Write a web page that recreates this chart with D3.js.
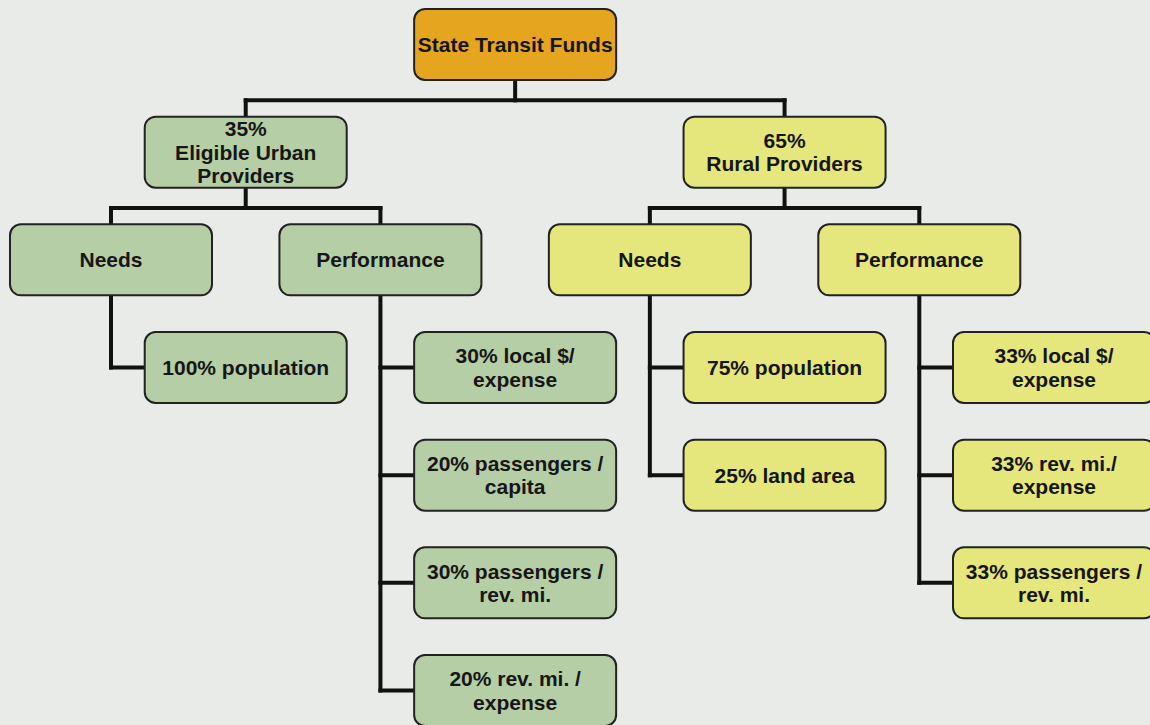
<!DOCTYPE html>
<html>
<head>
<meta charset="utf-8">
<script src="https://cdn.jsdelivr.net/npm/d3@7"></script>
<style>
  html, body { margin: 0; padding: 0; background: #e8ebe7; }
  svg { display: block; }
</style>
</head>
<body>
<svg id="chart" width="1150" height="725"></svg>
<script>
// ---- data ----
const ids = ["root", "urban", "rural", "uNeeds", "uPerf", "rNeeds", "rPerf",
  "u1", "u2", "u3", "u4", "u5", "r1", "r2", "r3", "r4", "r5"];
const parents = [null, "root", "root", "urban", "urban", "rural", "rural",
  "uNeeds", "uPerf", "uPerf", "uPerf", "uPerf", "rNeeds", "rNeeds", "rPerf", "rPerf", "rPerf"];
const labels = [
  "State Transit Funds",
  "35%\nEligible Urban\nProviders",
  "65%\nRural Providers",
  "Needs", "Performance", "Needs", "Performance",
  "100% population",
  "30% local $/\nexpense",
  "20% passengers /\ncapita",
  "30% passengers /\nrev. mi.",
  "20% rev. mi. /\nexpense",
  "75% population",
  "25% land area",
  "33% local $/\nexpense",
  "33% rev. mi./\nexpense",
  "33% passengers /\nrev. mi."
];
const branchNames = ["root", "urban", "rural"];
const branchColors = ["#e6a51f", "#b5cea6", "#e5e67b"];

// ---- build hierarchy ----
const table = ids.map((id, i) => ({ id, parent: parents[i], label: labels[i] }));
const root = d3.stratify().id(d => d.id).parentId(d => d.parent)(table);

// grid layout: category nodes (depth 2) occupy every other column,
// leaves sit one column right and stack downward; ancestors centre over children
let k = 0;
root.each(n => {
  if (n.depth === 2) { n.col = 2 * k; n.row = 2; k++; }
});
root.leaves().forEach(n => {
  n.col = n.parent.col + 1;
  n.row = 3 + n.parent.children.indexOf(n);
});
root.eachAfter(n => {
  if (n.depth < 2) {
    n.col = d3.mean(n.children, c => c.col);
    n.row = n.depth;
  }
});

const color = d3.scaleOrdinal().domain(branchNames).range(branchColors);
const branchOf = n => n.depth === 0 ? "root" : n.ancestors().find(a => a.depth === 1).id;

const x = d3.scaleLinear().domain([0, 7]).range([10, 953]);
const y = d3.scaleLinear().domain([0, 6]).range([9, 655]);
const W = 202, H = 71;
const cx = n => x(n.col) + W / 2;
const cy = n => y(n.row) + H / 2;

const svg = d3.select("#chart");
const links = svg.append("g")
  .attr("fill", "none")
  .attr("stroke", "#111")
  .attr("stroke-width", 4)
  .attr("stroke-linecap", "square");

root.each(n => {
  if (!n.children) return;
  if (n.depth < 2) {
    const bottom = y(n.row) + H;
    const top = y(n.children[0].row);
    const mid = (bottom + top) / 2 + 2;
    const xs = n.children.map(cx);
    links.append("path").attr("d", `M${cx(n)},${bottom}V${mid}`);
    links.append("path").attr("d", `M${d3.min(xs)},${mid}H${d3.max(xs)}`);
    n.children.forEach(c => links.append("path").attr("d", `M${cx(c)},${mid}V${top}`));
  } else {
    const last = n.children[n.children.length - 1];
    links.append("path").attr("d", `M${cx(n)},${y(n.row) + H}V${cy(last)}`);
    n.children.forEach(c => links.append("path").attr("d", `M${cx(n)},${cy(c)}H${x(c.col)}`));
  }
});

const nodes = svg.append("g").selectAll("g")
  .data(root.descendants())
  .join("g")
  .attr("transform", d => `translate(${x(d.col)},${y(d.row)})`);

nodes.append("rect")
  .attr("width", W).attr("height", H)
  .attr("rx", 11).attr("ry", 11)
  .attr("fill", d => color(branchOf(d)))
  .attr("stroke", "#222")
  .attr("stroke-width", 2);

const lineH = 23.5;
nodes.append("text")
  .attr("text-anchor", "middle")
  .attr("font-family", "'Liberation Sans', Arial, Helvetica, sans-serif")
  .attr("font-weight", "bold")
  .attr("font-size", 21)
  .attr("fill", "#161616")
  .each(function (d) {
    const lines = d.data.label.split("\n");
    const t = d3.select(this);
    lines.forEach((ln, i) => {
      t.append("tspan")
        .attr("x", W / 2)
        .attr("y", H / 2 + (i - (lines.length - 1) / 2) * lineH)
        .attr("dy", "0.36em")
        .text(ln);
    });
  });
</script>
</body>
</html>
